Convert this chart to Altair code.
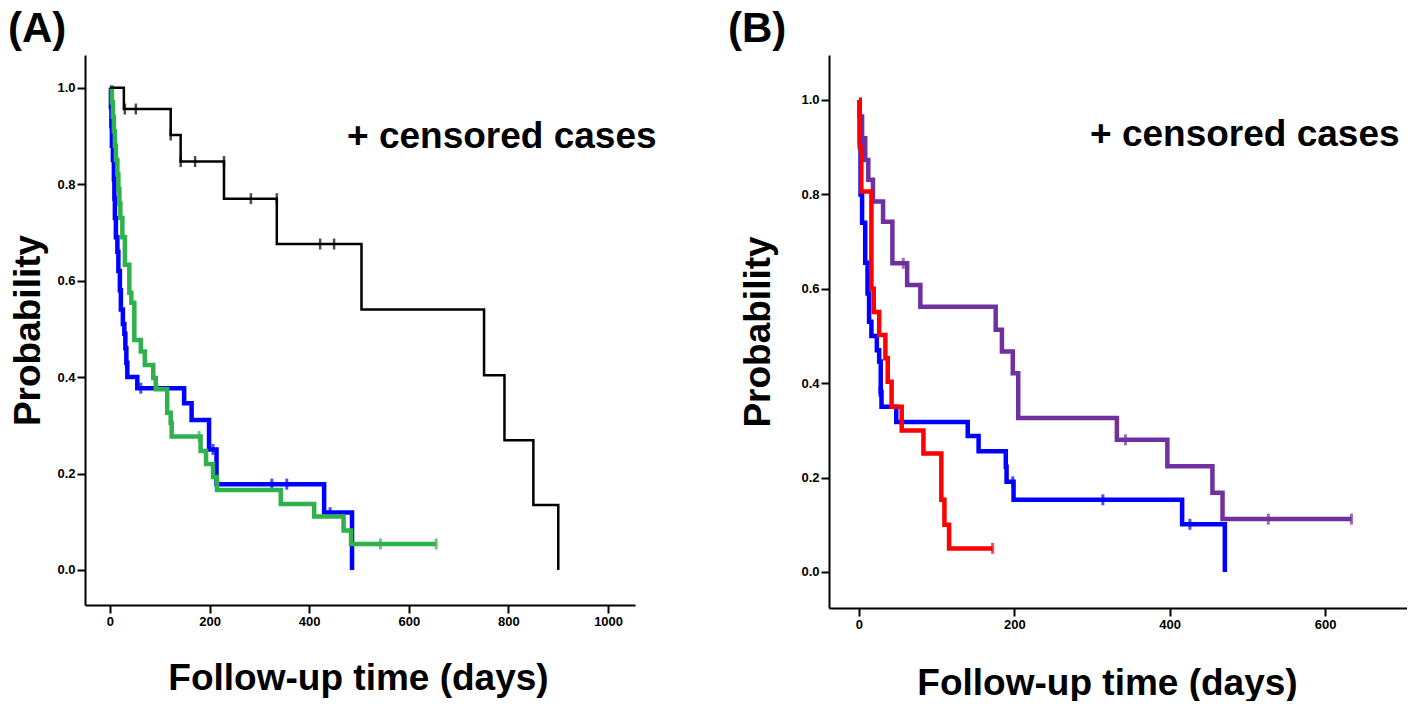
import altair as alt
import pandas as pd

FONT = "Liberation Sans"

# ---------------- Panel A data ----------------
a_black_t = [0, 28, 122, 142, 229, 335, 505, 751, 792, 850, 900]
a_black_s = [1.0, 0.956, 0.902, 0.847, 0.770, 0.676, 0.540, 0.404, 0.269, 0.135, 0.0]
a_black_ct = [30, 52, 122, 142, 171, 229, 283, 335, 422, 450]
a_black_cs = [0.956, 0.956, 0.902, 0.847, 0.847, 0.847, 0.770, 0.770, 0.676, 0.676]

a_blue_t = [0, 2, 3, 4, 6, 8, 9, 10, 12, 15, 17, 20, 22, 26, 29, 31, 33, 35, 55, 149, 164, 199, 214, 430, 486]
a_blue_s = [1.0, 0.96, 0.92, 0.88, 0.85, 0.81, 0.77, 0.73, 0.69, 0.66, 0.62, 0.58, 0.54, 0.51, 0.49, 0.46, 0.43, 0.40, 0.377, 0.346, 0.311, 0.25, 0.178, 0.119, 0.0]
a_blue_ct = [33, 62, 207, 325, 355, 442]
a_blue_cs = [0.43, 0.377, 0.25, 0.178, 0.178, 0.119]

a_green_t = [0, 4, 6, 8, 10, 12, 15, 17, 19, 21, 25, 30, 39, 43, 49, 62, 70, 87, 92, 115, 122, 124, 182, 193, 207, 215, 343, 410, 469, 484, 655]
a_green_s = [1.0, 0.97, 0.94, 0.91, 0.88, 0.85, 0.82, 0.79, 0.76, 0.73, 0.69, 0.633, 0.575, 0.554, 0.477, 0.453, 0.425, 0.398, 0.375, 0.326, 0.305, 0.277, 0.247, 0.22, 0.193, 0.166, 0.137, 0.111, 0.082, 0.054, 0.054]
a_green_ct = [179, 543, 655]
a_green_cs = [0.277, 0.054, 0.054]

# ---------------- Panel B data ----------------
b_red_t = [0, 1, 3, 16, 19, 26, 34, 37, 42, 55, 83, 106, 110, 116, 172]
b_red_s = [1.0, 0.90, 0.806, 0.60, 0.551, 0.502, 0.453, 0.403, 0.35, 0.30, 0.251, 0.153, 0.10, 0.05, 0.05]
b_red_ct = [172]
b_red_cs = [0.05]

b_blue_t = [0, 1, 2, 4, 8, 11, 13, 16, 23, 26, 28, 29, 48, 140, 154, 189, 190, 199, 416, 471]
b_blue_s = [1.0, 0.91, 0.80, 0.74, 0.655, 0.59, 0.53, 0.50, 0.47, 0.446, 0.382, 0.35, 0.318, 0.288, 0.256, 0.223, 0.191, 0.153, 0.101, 0.0]
b_blue_ct = [27, 198, 314, 426]
b_blue_cs = [0.382, 0.191, 0.153, 0.101]

b_purple_t = [0, 1, 4, 8, 12, 18, 31, 43, 62, 79, 176, 184, 198, 205, 332, 397, 455, 468, 634]
b_purple_s = [1.0, 0.965, 0.919, 0.873, 0.831, 0.785, 0.742, 0.654, 0.608, 0.562, 0.513, 0.467, 0.421, 0.326, 0.28, 0.224, 0.168, 0.112, 0.112]
b_purple_ct = [57, 343, 527, 634]
b_purple_cs = [0.654, 0.28, 0.112, 0.112]

a_xticks = [0, 200, 400, 600, 800, 1000]
b_xticks = [0, 200, 400, 600]
y_ticks = [0.0, 0.2, 0.4, 0.6, 0.8, 1.0]

X_TITLE = "Follow-up time (days)"
Y_TITLE = "Probability"
NOTE = "+ censored cases"


def encodings(xdom, ydom, xticks, ytitle_x, xtitle_x, xtitle_y):
    x = alt.X("t:Q",
              scale=alt.Scale(domain=xdom, nice=False, zero=False),
              axis=alt.Axis(values=xticks, title=X_TITLE, format="d",
                            titleX=xtitle_x, titleY=xtitle_y,
                            titleBaseline="alphabetic", titleAlign="center"))
    y = alt.Y("s:Q",
              scale=alt.Scale(domain=ydom, nice=False, zero=False),
              axis=alt.Axis(values=y_ticks, title=Y_TITLE, format=".1f",
                            titleX=ytitle_x, titleBaseline="alphabetic"))
    return x, y


def curve(t, s, color, width, x, y):
    df = pd.DataFrame({"t": t, "s": s, "o": list(range(len(t)))})
    return alt.Chart(df).mark_line(interpolate="step-after", color=color,
                                   strokeWidth=width).encode(x=x, y=y, order="o:Q")


def censor(t, s, color, thick, x, y):
    df = pd.DataFrame({"t": t, "s": s})
    return alt.Chart(df).mark_tick(orient="vertical", color=color,
                                   thickness=thick, size=11).encode(x=x, y=y)


def label(text, px, py, size, align="left"):
    df = pd.DataFrame({"label": [text]})
    return alt.Chart(df).mark_text(font=FONT, fontWeight="bold", fontSize=size,
                                   align=align, baseline="alphabetic",
                                   color="black").encode(
        x=alt.value(px), y=alt.value(py), text="label:N")


# Panel A
AW, AH = 550, 550
xa, ya = encodings([-50, 1054], [-0.0726, 1.068], a_xticks, -46, 273, 84)
panel_a = alt.layer(
    curve(a_blue_t, a_blue_s, "#0000ff", 4.5, xa, ya),
    censor(a_blue_ct, a_blue_cs, "#0000ff", 3, xa, ya),
    curve(a_green_t, a_green_s, "#2fb24c", 4.5, xa, ya),
    censor(a_green_ct, a_green_cs, "#2fb24c", 3, xa, ya),
    curve(a_black_t, a_black_s, "black", 2.5, xa, ya),
    censor(a_black_ct, a_black_cs, "black", 2.5, xa, ya),
    label(NOTE, 262, 93, 37),
    label("(A)", -77, -13, 42),
).properties(width=AW, height=AH)

# Panel B
BW, BH = 578, 553
xb, yb = encodings([-38.6, 705.5], [-0.0763, 1.0953], b_xticks, -60, 278, 86)
panel_b = alt.layer(
    curve(b_purple_t, b_purple_s, "#7030a0", 4.5, xb, yb),
    censor(b_purple_ct, b_purple_cs, "#7030a0", 3, xb, yb),
    curve(b_blue_t, b_blue_s, "#0000ff", 4.5, xb, yb),
    censor(b_blue_ct, b_blue_cs, "#0000ff", 3, xb, yb),
    curve(b_red_t, b_red_s, "#ff0000", 4.5, xb, yb),
    censor(b_red_ct, b_red_cs, "#ff0000", 3, xb, yb),
    label(NOTE, 261, 91, 37),
    label("(B)", -101, -13, 42),
).properties(width=BW, height=BH)

chart = alt.hconcat(panel_a, panel_b, spacing=194, bounds="flush").properties(
    padding=0, background="white"
).configure_view(stroke=None).configure_axis(
    grid=False,
    domainColor="black", domainWidth=2,
    tickColor="black", tickWidth=2, tickSize=8,
    labelFont=FONT, labelFontWeight="bold", labelFontSize=13, labelColor="black",
    labelPadding=2,
    titleFont=FONT, titleFontWeight="bold", titleFontSize=37, titleColor="black",
)

chart.save("out.html", embed_options={"renderer": "svg", "actions": False})
